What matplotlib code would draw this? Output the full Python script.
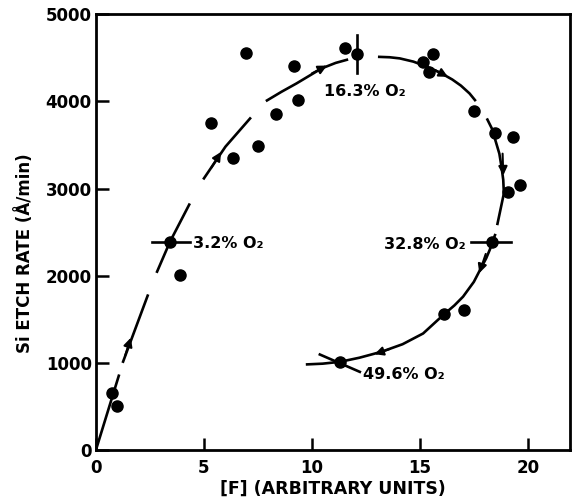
import matplotlib
matplotlib.use("Agg")
import matplotlib.pyplot as plt

plt.rcParams['font.family'] = ['DejaVu Sans']
plt.rcParams['font.weight'] = 'bold'

# measured points, [F] vs Si etch rate
f_pts = [0.73, 0.99, 3.43, 3.89, 5.31, 6.36, 6.94, 7.51, 8.32, 9.18, 9.37,
         11.53, 12.07, 15.15, 15.43, 15.6, 17.5, 18.47, 19.3, 19.09, 19.63,
         18.36, 16.11, 17.04, 11.3]
rate_pts = [650, 505, 2389, 2007, 3754, 3345, 4556, 3486, 3850, 4404, 4014,
            4607, 4541, 4453, 4338, 4541, 3888, 3632, 3593, 2955, 3039,
            2389, 1556, 1606, 1013]

curve_segs = [
    [(0.0, 0), (1.08, 868)],
    [(1.24, 1001), (2.42, 1786)],
    [(2.81, 2033), (3.43, 2389), (4.35, 2829)],
    [(4.97, 3104), (6.0, 3480), (7.18, 3815)],
    [(7.87, 4002), (8.6, 4110), (9.29, 4205), (10.45, 4377), (11.1, 4440), (11.68, 4480)],
    [(13.06, 4510), (13.6, 4505), (14.07, 4492), (14.7, 4455), (15.3, 4400),
     (16.0, 4320), (16.5, 4250), (16.9, 4180), (17.3, 4090), (17.59, 4002)],
    [(18.1, 3804), (18.35, 3680), (18.5, 3550), (18.68, 3400), (18.78, 3249),
     (18.86, 3100), (18.89, 2944), (18.58, 2580)],
    [(18.5, 2480), (18.36, 2389), (18.24, 2300), (18.07, 2200), (17.86, 2102),
     (17.5, 1930), (17.0, 1760), (16.6, 1660), (16.11, 1556), (15.15, 1338),
     (14.2, 1215), (13.22, 1128), (12.2, 1060), (11.3, 1013), (10.5, 992), (9.72, 983)],
]

# direction arrows (tail, tip)
arrows = [
    ((1.35, 1080), (1.62, 1290)),
    ((5.35, 3240), (5.8, 3420)),
    ((10.0, 4320), (10.7, 4410)),
    ((15.7, 4360), (16.3, 4280)),
    ((18.83, 3400), (18.86, 3150)),
    ((18.05, 2250), (17.75, 2030)),
    ((13.6, 1160), (12.9, 1100)),
]

# O2 concentration marks and labels
o2_marks = [
    ([2.58, 4.35], [2389, 2389]),
    ([12.07, 12.07], [4320, 4759]),
    ([17.39, 19.24], [2389, 2389]),
    ([10.37, 12.22], [1097, 898]),
]
o2_labels = ["3.2% O₂", "16.3% O₂", "32.8% O₂", "49.6% O₂"]
o2_label_pos = [(4.5, 2370), (10.56, 4110), (17.13, 2362), (12.38, 870)]
o2_label_ha = ["left", "left", "right", "left"]

fig = plt.figure(figsize=(5.74, 5.03), dpi=100)
ax = fig.add_axes([0.167, 0.105, 0.826, 0.867])

for seg in curve_segs:
    xs = [p[0] for p in seg]
    ys = [p[1] for p in seg]
    ax.plot(xs, ys, color='black', lw=1.9, solid_capstyle='butt', solid_joinstyle='round')

for tail, tip in arrows:
    ax.annotate('', xy=tip, xytext=tail,
                arrowprops=dict(arrowstyle='-|>', color='black', lw=1.5,
                                mutation_scale=13, shrinkA=0, shrinkB=0))

for mx, my in o2_marks:
    ax.plot(mx, my, color='black', lw=1.9)

ax.plot(f_pts, rate_pts, 'o', color='black', markersize=8)

for txt, (lx, ly), ha in zip(o2_labels, o2_label_pos, o2_label_ha):
    ax.text(lx, ly, txt, ha=ha, va='center', fontsize=11.5, fontweight='bold')

ax.set_xlim(0, 21.95)
ax.set_ylim(0, 5000)
ax.set_xticks([0, 5, 10, 15, 20])
ax.set_yticks([0, 1000, 2000, 3000, 4000, 5000])
ax.tick_params(direction='in', length=9, width=1.8, labelsize=12)
ax.tick_params(axis='x', pad=6)
ax.tick_params(axis='y', pad=3)
for sp in ax.spines.values():
    sp.set_linewidth(2)

ax.set_xlabel("[F] (ARBITRARY UNITS)", fontsize=12.5, fontweight='bold', labelpad=2)
ax.set_ylabel("Si ETCH RATE (Å/min)", fontsize=12, fontweight='bold')
ax.yaxis.set_label_coords(-0.13, 0.452)

fig.savefig("out.png", dpi=100)
